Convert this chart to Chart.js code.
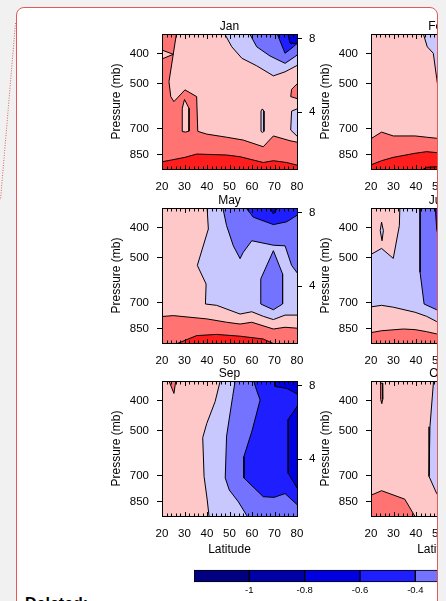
<!DOCTYPE html>
<html>
<head>
<meta charset="utf-8">
<script src="https://cdn.jsdelivr.net/npm/chart.js@4.4.1/dist/chart.umd.min.js"></script>
<style>
html, body { margin: 0; padding: 0; width: 446px; height: 601px; overflow: hidden; background: #f1f1f1; }
#page { position: absolute; left: 16px; top: 7px; width: 422px; height: 700px; box-sizing: border-box;
        border: 1px solid #e05a5a; border-radius: 8px; background: #fff; }
#clip { position: absolute; left: 0; top: 0; width: 437px; height: 601px; overflow: hidden; }
#clip canvas { position: absolute; }
#link { position: absolute; left: 0; top: 0; }
#deleted { position: absolute; left: 25px; top: 595px; font: bold 16px "Liberation Sans", Arial, sans-serif; color: #000; }
</style>
</head>
<body>
<div id="page"></div>
<svg id="link" width="30" height="210"><line x1="15.5" y1="23" x2="0.5" y2="200" stroke="#e06060" stroke-width="1" stroke-dasharray="1 1.5"/></svg>
<div id="clip"></div>
<div id="deleted">Deleted:</div>
<script>
// axis ticks
const latTicks = [20, 30, 40, 50, 60, 70, 80];
const pressTicks = [400, 500, 700, 850];
const heightTicks = [4, 8];

// colour bar: bin edges and labels
const barLevels = [-1.2, -1, -0.8, -0.6, -0.4, -0.2, 0, 0.2, 0.4, 0.6, 0.8, 1, 1.2];
const barLabels = [-1, -0.8, -0.6, -0.4, -0.2, 0, 0.2, 0.4, 0.6, 0.8, 1];

// background bin (centre value) of every month
const janBase = 0.3;
const febBase = 0.1;
const mayBase = 0.1;
const junBase = -0.1;
const sepBase = 0.1;
const octBase = 0.1;

// contour patches: [bin centre, [[latitude, pressure mb], ...]]
const janPatches = [
    [0.1, [[26.8,330],[81,330],[81,776],[76.9,765],[69.5,738],[65,800],[56.1,761],[48.7,745],[39.9,728],[35.9,713],[35.4,550],[30.2,523],[25.3,571],[23.9,550],[23.1,492]]],
    [0.1, [[19,386],[25,401],[19,418]]],
    [0.1, [[30,562],[32,600],[32,712],[30.5,717],[29,714],[29,600]]],
    [0.3, [[81,492],[77.6,521],[77.2,550],[81,561]]],
    [-0.1, [[81,599],[77.6,613],[77.2,706],[81,751]]],
    [-0.1, [[64.6,603],[65.3,613],[65.3,713],[64.7,719],[64,713],[64,613]]],
    [-0.1, [[46.5,330],[51,379],[55.5,413],[62.1,437],[69.5,471],[74.7,457],[81,432],[81,330]]],
    [-0.3, [[57.6,330],[62.1,379],[68,406],[74.7,429],[79.1,408],[81,398],[81,330]]],
    [-0.5, [[70.2,330],[73.2,374],[74.7,398],[78.4,379],[81,364],[81,330]]],
    [-0.7, [[75.4,330],[76.9,369],[81,371],[81,330]]],
    [0.5, [[19,898],[24.3,883],[30.2,866],[35.4,845],[48.7,851],[54.7,862],[65,900],[69.5,888],[75.4,900],[81,922],[81,960],[19,960]]]
];
const febPatches = [
    [-0.1, [[42.5,330],[45,379],[47.7,398],[49.2,480],[50.5,560],[60,560],[60,330]]],
    [0.3, [[19,761],[24.7,717],[29.9,738],[39.6,738],[44.7,745],[49.2,751],[60,755],[60,960],[19,960]]],
    [0.5, [[19,922],[24.7,888],[29.9,866],[39.6,840],[44.7,830],[49.2,836],[60,840],[60,960],[19,960]]],
    [0.7, [[41.8,960],[44.7,933],[49.2,929],[60,930],[60,960]]]
];
const mayPatches = [
    [-0.1, [[39.9,330],[40.6,403],[35.7,529],[39.6,608],[39.3,706],[44.3,713],[54.7,761],[59.9,748],[65,774],[69.5,793],[74.7,767],[81,767],[81,330]]],
    [-0.3, [[46.5,330],[48.7,393],[51.7,457],[54.7,503],[56.1,480],[59.9,440],[69.5,455],[74.7,457],[77.6,529],[81,571],[81,330]]],
    [-0.3, [[69.5,474],[73.6,564],[73.6,706],[69.5,737],[63.9,706],[63.9,585]]],
    [-0.5, [[55.4,330],[60.6,369],[69.5,390],[75.4,382],[81,360],[81,330]]],
    [-0.7, [[66.5,330],[69.5,360],[73.2,330]]],
    [0.3, [[19,776],[25,770],[39.9,789],[48.7,809],[54.7,820],[59.9,809],[69.5,851],[74.7,840],[81,847],[81,960],[19,960]]],
    [0.5, [[25,960],[35.4,894],[44.3,886],[54.7,898],[65,917],[71,960]]]
];
const junPatches = [
    [0.1, [[19,330],[32.9,330],[32.6,393],[29.9,502],[24.7,466],[19,492]]],
    [-0.1, [[24.7,383],[25.5,408],[24.9,440],[24.1,408]]],
    [-0.3, [[41.8,330],[41.8,557],[43.6,706],[49.2,737],[60,760],[60,330]]],
    [-0.5, [[48.4,330],[49.2,403],[50,430],[60,430],[60,330]]],
    [0.1, [[19,723],[24.7,713],[29.9,723],[39.6,751],[44.7,774],[49.2,805],[60,830],[60,960],[19,960]]],
    [0.3, [[19,877],[24.7,862],[34.4,851],[39.6,855],[44.7,868],[49.2,883],[60,900],[60,960],[19,960]]]
];
const sepPatches = [
    [0.3, [[22.1,330],[25.3,378],[26.5,330]]],
    [-0.1, [[46.5,330],[43.6,402],[39.9,473],[38.1,526],[38.7,703],[40.1,838],[41,960],[81,960],[81,330]]],
    [-0.3, [[52.9,330],[51.4,387],[48.7,520],[48.1,711],[49.9,778],[53.9,849],[58.4,960],[81,960],[81,330]]],
    [-0.5, [[59.9,330],[62.1,370],[63.6,397],[60,500],[56.4,606],[56.4,711],[65,818],[69.8,822],[74.7,799],[81,881],[81,330]]],
    [-0.7, [[69.5,330],[70.2,359],[75.4,364],[81,383],[81,330]]],
    [-0.7, [[81,407],[76.1,459],[76.1,687],[81,787]]]
];
const octPatches = [
    [0.3, [[19,815],[24.7,782],[35,833],[40,960],[19,960]]],
    [0.3, [[24.3,350],[25.1,350],[25.2,395],[24.8,408],[24.3,395]]],
    [-0.1, [[48,330],[46.2,485],[45.8,703],[49.2,799],[52,850],[60,850],[60,330]]]
];

// colours of the bins, from -1.2 to 1.2 in steps of 0.2
const binColors = ['#000080', '#0000a8', '#0000e0', '#1e1eff', '#7373ff', '#c8c8ff',
    '#ffc8c8', '#ff7373', '#ff1e1e', '#e00000', '#a00000', '#800000'];
const FAMILY = "'Liberation Sans', Arial, sans-serif";

function binColor (level) {
    return binColors[Math.floor((level + 1.2) / 0.2)]; }

// fills the plot with the background bin, then frame and inward latitude ticks
const framePlugin = {
    id: 'frame',
    beforeDatasetsDraw (chart, args, opts) {
        const a = chart.chartArea, ctx = chart.ctx;
        ctx.save();
        ctx.fillStyle = binColor(opts.base);
        ctx.fillRect(a.left, a.top, a.right - a.left, a.bottom - a.top);
        ctx.restore(); },
    afterDatasetsDraw (chart) {
        const a = chart.chartArea, ctx = chart.ctx, xs = chart.scales.x;
        ctx.save();
        ctx.strokeStyle = '#000';
        ctx.lineWidth = 1;
        ctx.strokeRect(a.left + 0.5, a.top + 0.5, a.right - a.left, a.bottom - a.top);
        ctx.beginPath();
        for (let v = 20; v <= 80; v += 2) {
            const x = Math.round(xs.getPixelForValue(v)) + 0.5;
            const len = v % 10 === 0 ? 4 : 2.5;
            ctx.moveTo(x, a.bottom); ctx.lineTo(x, a.bottom - len);
            ctx.moveTo(x, a.top + 1); ctx.lineTo(x, a.top + 1 + len); }
        ctx.stroke();
        ctx.restore(); }
};

function patchDatasets (patches) {
    return patches.map(([level, pts], i) => ({
        data: pts.concat([pts[0]]).map(([x, y]) => ({ x: x, y: y })),
        backgroundColor: binColor(level),
        borderColor: '#000', borderWidth: 1, fill: 'shape',
        pointRadius: 0, tension: 0, clip: 0,
        order: patches.length - i, xAxisID: 'x', yAxisID: 'y' })); }

// panel geometry (plot area in page pixels)
const colLeft = [162, 371];
const rowTop = [34, 208, 381];
const PW = 135, PH = 135, L = 62, R = 24, T = 16;

function makePanel (title, base, patches, col, row) {
    const B = row === 2 ? 42 : 22;
    const cv = document.createElement('canvas');
    cv.width = L + PW + R;
    cv.height = T + PH + B;
    cv.style.left = (colLeft[col] - L) + 'px';
    cv.style.top = (rowTop[row] - T) + 'px';
    document.getElementById('clip').appendChild(cv);

    new Chart(cv, {
        type: 'line',
        data: { datasets: patchDatasets(patches) },
        options: {
            responsive: false, animation: false, events: [],
            layout: { padding: 0 },
            plugins: { legend: { display: false }, tooltip: { enabled: false }, frame: { base: base } },
            scales: {
                x: { type: 'linear', position: 'bottom', min: 20, max: 80,
                    afterBuildTicks: (s) => { s.ticks = latTicks.map((v) => ({ value: v })); },
                    ticks: { color: '#000', font: { size: 11.5, family: FAMILY }, padding: 11,
                        maxRotation: 0, autoSkip: false },
                    grid: { display: false, drawTicks: false }, border: { display: false },
                    title: { display: row === 2, text: 'Latitude', color: '#000',
                        font: { size: 12, family: FAMILY }, padding: { top: 0, bottom: 1.3 } },
                    afterFit: (s) => { s.height = B; } },
                top: { type: 'linear', position: 'top', min: 20, max: 80,
                    ticks: { display: false }, grid: { display: false }, border: { display: false },
                    title: { display: true, text: title, color: '#000',
                        font: { size: 12, family: FAMILY }, padding: { top: 1.5, bottom: 0 } },
                    afterFit: (s) => { s.height = T; } },
                y: { type: 'logarithmic', position: 'left', reverse: true, min: 344.5, max: 944.8,
                    afterBuildTicks: (s) => { s.ticks = pressTicks.map((v) => ({ value: v })); },
                    ticks: { callback: (v) => String(v), color: '#000',
                        font: { size: 11.5, family: FAMILY }, padding: 8 },
                    grid: { drawOnChartArea: false, tickLength: 5, color: '#000' },
                    border: { color: '#000' },
                    title: { display: true, text: 'Pressure (mb)', color: '#000',
                        font: { size: 12, family: FAMILY }, padding: { top: 9.5, bottom: 0 } },
                    afterFit: (s) => { s.width = L; } },
                y2: { type: 'linear', position: 'right', min: 0.898, max: 8.245,
                    afterBuildTicks: (s) => { s.ticks = heightTicks.map((v) => ({ value: v })); },
                    ticks: { callback: (v) => String(v), color: '#000',
                        font: { size: 11.5, family: FAMILY }, padding: 7 },
                    grid: { drawOnChartArea: false, tickLength: 5, color: '#000' },
                    border: { color: '#000' },
                    afterFit: (s) => { s.width = R; } }
            }
        },
        plugins: [framePlugin]
    });
}

makePanel('Jan', janBase, janPatches, 0, 0);
makePanel('Feb', febBase, febPatches, 1, 0);
makePanel('May', mayBase, mayPatches, 0, 1);
makePanel('Jun', junBase, junPatches, 1, 1);
makePanel('Sep', sepBase, sepPatches, 0, 2);
makePanel('Oct', octBase, octPatches, 1, 2);

// colour bar under the panels
const barCanvas = document.createElement('canvas');
barCanvas.width = 666;
barCanvas.height = 30;
barCanvas.style.left = '193px';
barCanvas.style.top = '568px';
document.getElementById('clip').appendChild(barCanvas);

new Chart(barCanvas, {
    type: 'bar',
    data: {
        labels: ['bar'],
        datasets: barLevels.slice(0, -1).map((lo, i) => ({
            data: [[lo, barLevels[i + 1]]],
            backgroundColor: binColors[i], borderColor: '#000', borderWidth: 1,
            borderSkipped: false, barThickness: 12, grouped: false })) },
    options: {
        indexAxis: 'y', responsive: false, animation: false, events: [],
        layout: { padding: { left: 1, right: 1, top: 0, bottom: 0 } },
        plugins: { legend: { display: false }, tooltip: { enabled: false } },
        scales: {
            x: { type: 'linear', min: -1.2, max: 1.2,
                afterBuildTicks: (s) => { s.ticks = barLabels.map((v) => ({ value: v })); },
                ticks: { callback: (v) => String(v), color: '#000',
                    font: { size: 9.5, family: FAMILY }, padding: 1, maxRotation: 0, autoSkip: false },
                grid: { display: false, drawTicks: false }, border: { display: false },
                afterFit: (s) => { s.height = 14; } },
            y: { display: false }
        }
    }
});
</script>
</body>
</html>
